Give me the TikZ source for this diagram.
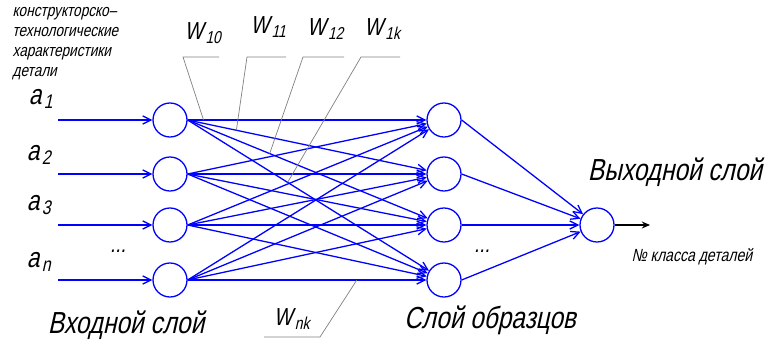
\documentclass[tikz,border=0pt]{standalone}
\usepackage{fontspec}
\setmainfont{Liberation Sans}
\newfontfamily\gost[FakeStretch=0.8,FakeSlant=0.22]{Liberation Sans}
\usetikzlibrary{arrows.meta,calc}

\begin{document}
\begin{tikzpicture}[x=.03cm,y=-.03cm,line width=1.1pt,
  neuron/.style={circle,draw=blue,minimum size=1.02cm,inner sep=0pt},
  link/.style={blue,-{Straight Barb[length=7pt,width=7pt]}},
  lead/.style={black!50,line width=.6pt},
  sym/.style={inner sep=0pt,font=\gost\fontsize{24}{24}\selectfont},
  wlab/.style={inner sep=0pt,font=\gost\fontsize{21}{21}\selectfont},
  title/.style={inner sep=0pt,font=\gost\fontsize{26}{26}\selectfont},
  note/.style={inner sep=0pt,font=\gost\fontsize{15}{15}\selectfont}]
\useasboundingbox (0,0) rectangle (767,345);
% layers
\foreach \i/\y in {1/120,2/174,3/225,4/280}{
  \node[neuron] (in\i) at (170,\y) {};
  \node[neuron] (hid\i) at (444,\y) {};
  \coordinate (src\i) at (58,\y);
  \draw[link] (src\i)--(in\i);}
\node[neuron] (out) at (597,225) {};
\foreach \i in {1,...,4}{
  \foreach \j in {1,...,4}{\draw[link] (in\i.east)--(hid\j);}
  \draw[link] (hid\i.east)--(out);}
\coordinate (res) at (650,225);
\draw[line width=1.4pt,-{Stealth[length=7pt,width=6pt]}] (out.east)--(res);
% inputs
\node[sym] (a1) at (41,99) {a\kern2pt\textsubscript{1}};
\node[sym] (a2) at (39,155) {a\kern2pt\textsubscript{2}};
\node[sym] (a3) at (39,205) {a\kern2pt\textsubscript{3}};
\node[sym] (an) at (39,262) {a\kern2pt\textsubscript{n}};
\node[note,font=\gost\fontsize{20}{20}\selectfont] (dots1) at (118,251) {...};
\node[note,font=\gost\fontsize{20}{20}\selectfont] (dots2) at (482,251) {...};
% weights
\foreach \n/\h/\t/\kx/\ex/\ly in {10/1/.062/183/219/33,11/2/.19/247/286/27,12/3/.32/303/344/29,1k/4/.39/361/400/29}{
  \coordinate (p\n) at ($(in1.east)!\t!(hid\h.center)$);
  \coordinate (k\n) at (\kx,57);\coordinate (e\n) at (\ex,57);
  \draw[lead] (p\n)--(k\n)--(e\n);
  \node[wlab] (w\n) at ({(\kx+\ex)/2+2},\ly) {W\kern2pt\textsubscript{\n}};}
\coordinate (pnk) at ($(in4.east)!.66!(hid4.center)$);
\coordinate (knk) at (320,337);\coordinate (enk) at (264,337);
\draw[lead] (pnk)--(knk)--(enk);
\node[wlab] (wnk) at (292,319) {W\kern2pt\textsubscript{nk}};
% captions
\node[note,anchor=north west,align=left,font=\gost\fontsize{14.5}{17}\selectfont] (feat) at (12,7) {конструкторско–\\технологические\\характеристики\\детали};
\node[title] (inlab) at (126,325) {Входной слой};
\node[title] (hidlab) at (490,320) {Слой образцов};
\node[title] (outlab) at (675,172) {Выходной слой};
\node[note] (cls) at (692,257) {№ класса деталей};
\end{tikzpicture}
\end{document}
